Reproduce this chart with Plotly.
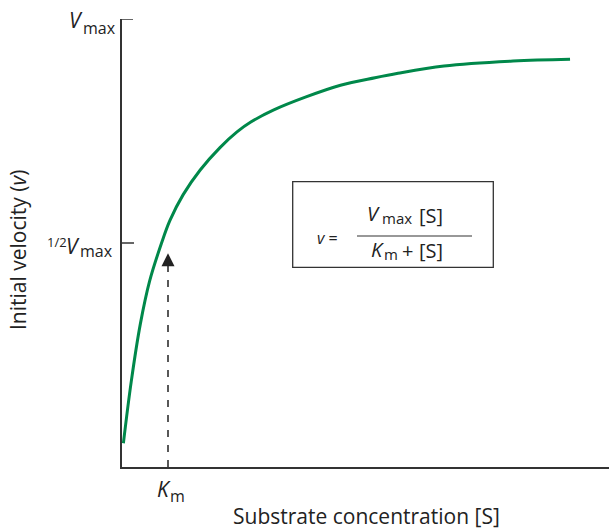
import plotly.graph_objects as go

# Curve: substrate concentration (in Km units) and velocity (in Vmax units)
S_vals = [0.03, 0.2, 0.4, 0.6, 0.86, 1.04, 1.33, 1.7, 2.13, 2.5, 2.8, 3.3, 4.0, 4.75, 5.5, 6.0, 7.0, 8.5, 9.74]
v_vals = [0.053, 0.19, 0.32, 0.415, 0.50, 0.55, 0.608, 0.663, 0.713, 0.748, 0.77, 0.797, 0.826, 0.852, 0.869, 0.879, 0.895, 0.906, 0.910]

KM = 1.0
HALF_V = 0.5
VMAX = 1.0
KM_ARROW_TOP = 0.477

W, H = 609, 529
L, R, T, B = 122, 0, 19, 62
PW, PH = W - L - R, H - T - B
X_MAX = PW / 46.0

def px(x):  # pixel -> paper x
    return (x - L) / PW

def py(y):  # pixel -> paper y
    return (H - B - y) / PH

FONT = "Open Sans"
GREEN = "#00884a"
AX = "#333333"
TXT = "#222222"

fig = go.Figure()
fig.add_trace(go.Scatter(x=S_vals, y=v_vals, mode="lines",
                         line=dict(color=GREEN, width=3, shape="spline", smoothing=1.0),
                         hoverinfo="skip", showlegend=False))
fig.add_trace(go.Scatter(x=[KM, KM], y=[0, KM_ARROW_TOP - 0.02], mode="lines",
                         line=dict(color=TXT, width=1.5, dash="7px,8px"),
                         hoverinfo="skip", showlegend=False))

ann = []
ann.append(dict(x=KM, y=KM_ARROW_TOP, ax=KM, ay=KM_ARROW_TOP - 0.03, xref="x", yref="y",
                axref="x", ayref="y", text="", showarrow=True, arrowhead=2, arrowsize=2.0,
                arrowwidth=1.3, arrowcolor=TXT, standoff=0))

def label(x, y, text, size, xanchor="left", yanchor="middle", angle=0):
    ann.append(dict(x=px(x), y=py(y), xref="paper", yref="paper", text=text, showarrow=False,
                    xanchor=xanchor, yanchor=yanchor, textangle=angle, borderpad=0,
                    font=dict(family=FONT, size=size, color=TXT)))

# Vmax tick label
label(68, 20, "<i>V</i>", 21)
label(82, 28, "max", 16)
# 1/2 Vmax tick label
label(46, 242, "1/2", 13)
label(65, 246, "<i>V</i>", 21)
label(79, 251, "max", 16)
# Km label
label(156, 489, "<i>K</i>", 21)
label(169, 496, "m", 16)
# axis titles
label(366, 516, "Substrate concentration [S]", 21, xanchor="center")
label(18, 250, "Initial velocity (<i>v</i>)", 21, xanchor="center", angle=-90)

# Equation
label(316, 238, "<i>v</i> =", 16)
label(366, 214, "<i>V</i>", 20)
label(381, 218, "max", 15)
label(418, 215, "[S]", 20)
label(370, 249, "<i>K</i>", 20)
label(383, 254, "m", 15)
label(401, 250, "+", 20)
label(418, 250, "[S]", 20)

shapes = [
    dict(type="rect", xref="paper", yref="paper", x0=px(292.7), x1=px(493.3), y0=py(267.3), y1=py(181.7),
         line=dict(color=AX, width=1.3)),
    dict(type="line", xref="paper", yref="paper", x0=px(357), x1=px(472), y0=py(236), y1=py(236),
         line=dict(color=AX, width=1.2)),
    dict(type="line", xref="paper", yref="y", x0=0, x1=px(133), y0=VMAX, y1=VMAX,
         line=dict(color=AX, width=1.5)),
    dict(type="line", xref="paper", yref="y", x0=0, x1=px(134), y0=HALF_V, y1=HALF_V,
         line=dict(color=AX, width=1.5)),
]

fig.update_layout(
    width=W, height=H, margin=dict(l=L, r=R, t=T, b=B),
    paper_bgcolor="white", plot_bgcolor="white",
    xaxis=dict(range=[0, X_MAX], showgrid=False, zeroline=False, showline=True,
               linecolor=AX, linewidth=1.5, showticklabels=False, ticks=""),
    yaxis=dict(range=[0, VMAX], showgrid=False, zeroline=False, showline=True,
               linecolor=AX, linewidth=1.5, showticklabels=False, ticks=""),
    annotations=ann, shapes=shapes, showlegend=False,
)

fig.write_html("out.html")
